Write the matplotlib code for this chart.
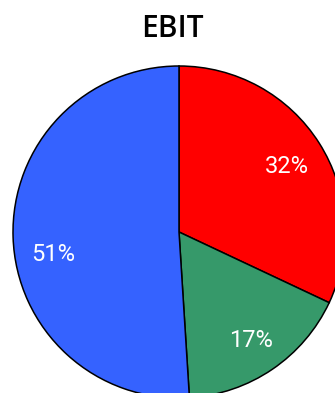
import numpy as np
import matplotlib.pyplot as plt

title = "EBIT"
labels = ["Red", "Green", "Blue"]
shares = [32, 17, 51]
colors = ["#ff0000", "#36996a", "#3562ff"]

W, H = 335, 393
fig = plt.figure(figsize=(W / 100, H / 100), dpi=100)

# pie centre ~ (179, 232) px, radius ~166 px; it runs off the right and bottom edges
cx, cy, r = 179, 232, 166
ax = fig.add_axes([(cx - r) / W, (H - cy - r) / H, 2 * r / W, 2 * r / H])

wedges, texts, autotexts = ax.pie(
    shares, colors=colors, startangle=90, counterclock=False,
    autopct="%d%%", pctdistance=0.77, radius=1, frame=True,
    wedgeprops=dict(edgecolor="black", linewidth=1.1),
    textprops=dict(color="white", fontsize=17, family="Roboto"),
)
ax.set_xlim(-1, 1)
ax.set_ylim(-1, 1)
ax.set_aspect("auto")
ax.axis("off")

# the big slice's label sits a little below its mid-angle in the original
w = wedges[2]
mid = np.deg2rad((w.theta1 + w.theta2) / 2 + 7)
autotexts[2].set_position((0.77 * np.cos(mid), 0.77 * np.sin(mid)))
for t in autotexts:
    t.set_va("center_baseline")

fig.text(172.5 / W, 1 - 37 / H, title, ha="center", va="baseline",
         fontsize=21.5, family="Open Sans", fontweight="semibold")

fig.savefig("out.png", dpi=100)
